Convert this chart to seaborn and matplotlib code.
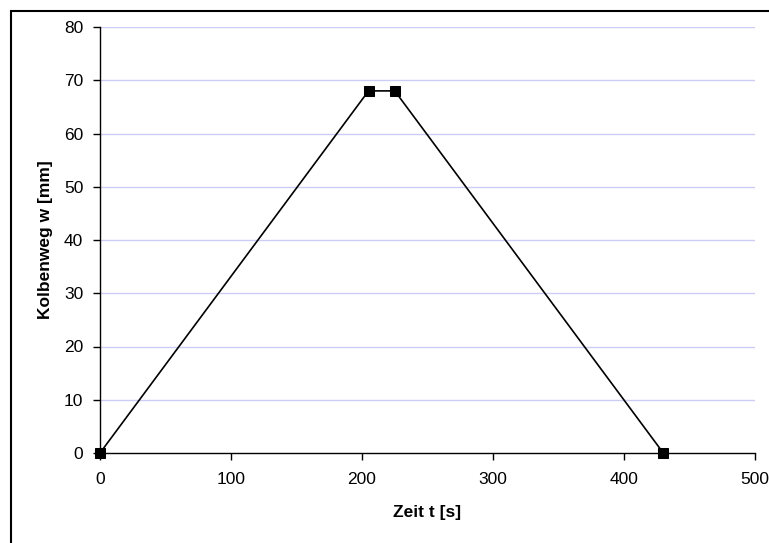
import matplotlib
matplotlib.use('Agg')
import matplotlib.pyplot as plt
import seaborn as sns
import pandas as pd
from matplotlib.patches import Rectangle

# Daten
zeit = [0, 205, 225, 430]
kolbenweg = [0, 68, 68, 0]
x_ticks = [0, 100, 200, 300, 400, 500]
y_ticks = [0, 10, 20, 30, 40, 50, 60, 70, 80]

df = pd.DataFrame({'Zeit': zeit, 'Weg': kolbenweg})

sns.set_style('white')
plt.rcParams['font.family'] = ['Liberation Sans', 'DejaVu Sans']
plt.rcParams['text.color'] = 'black'
plt.rcParams['axes.labelcolor'] = 'black'

fig = plt.figure(figsize=(7.69, 5.43), dpi=100)
ax = fig.add_axes([100/769, 1 - 453/543, 655/769, 426/543])

# Rahmen um das Diagramm
fig.patches.append(Rectangle((11/769, -0.5), 1.2, 1.5 - 11/543, transform=fig.transFigure,
                             fill=False, edgecolor='black', linewidth=1.5))

for y in y_ticks[1:]:
    ax.axhline(y, color='#ccccf5', linewidth=1, zorder=0)

sns.lineplot(data=df, x='Zeit', y='Weg', ax=ax, color='black', linewidth=1.2,
             marker='s', markersize=7, markeredgecolor='black', sort=False, clip_on=False)

ax.set_xlim(0, 500)
ax.set_ylim(0, 80)
ax.set_xticks(x_ticks)
ax.set_yticks(y_ticks)
ax.tick_params(axis='both', direction='out', length=5, width=1, colors='black',
               labelsize=12.5, bottom=True, left=True)
ax.tick_params(axis='x', pad=9)
ax.tick_params(axis='y', pad=7)
for s in ['top', 'right']:
    ax.spines[s].set_visible(False)
for s in ['left', 'bottom']:
    ax.spines[s].set_color('black')
    ax.spines[s].set_linewidth(1)

ax.set_xlabel('Zeit t [s]', fontweight='bold', fontsize=12.5, labelpad=13)
ax.set_ylabel('Kolbenweg w [mm]', fontweight='bold', fontsize=12.5, labelpad=8)

fig.savefig('out.png', dpi=100)
